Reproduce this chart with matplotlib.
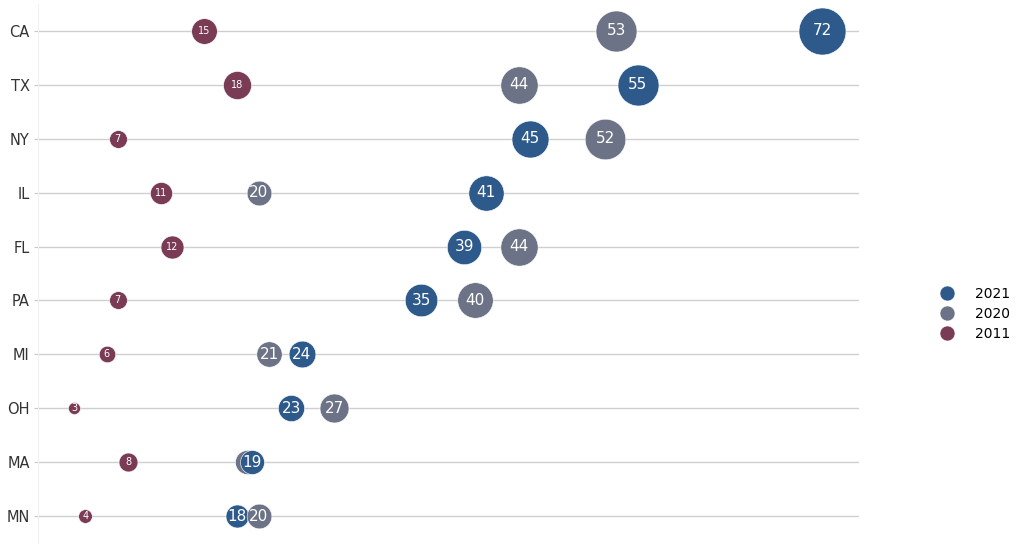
import matplotlib
matplotlib.use("Agg")
import matplotlib.pyplot as plt
from matplotlib.lines import Line2D

# data
states = ["CA", "TX", "NY", "IL", "FL", "PA", "MI", "OH", "MA", "MN"]
years = ["2021", "2020", "2011"]
v2021 = [72, 55, 45, 41, 39, 35, 24, 23, 19.4, 18]
v2020 = [53, 44, 52, 20, 44, 40, 21, 27, 18.9, 20]
v2011 = [15, 18, 7, 11, 12, 7, 6, 3, 8, 4]

colors = {"2021": "#2e5a8b", "2020": "#6d7386", "2011": "#7a3c55"}
# bubble diameter (px) at each series' min / max value, area scales linearly
size_range = {"2021": (23, 47), "2020": (24, 41), "2011": (12, 28)}
label_size = {"2021": 11, "2020": 11, "2011": 7}

DPI = 100
PX = 72.0 / DPI


def areas(values, dmin, dmax):
    lo, hi = min(values), max(values)
    amin, amax = (dmin * PX) ** 2, (dmax * PX) ** 2
    return [amin + (v - lo) / (hi - lo) * (amax - amin) for v in values]


fig = plt.figure(figsize=(10.24, 5.47), dpi=DPI)
ax = fig.add_axes([38 / 1024, 4 / 547, (859 - 38) / 1024, 539 / 547])

series = {"2021": v2021, "2020": v2020, "2011": v2011}
ypos = list(range(len(states)))

for year in years:
    vals = series[year]
    sizes = areas(vals, *size_range[year])
    for i, (y, v, s) in enumerate(zip(ypos, vals, sizes)):
        z = 3 + v / 100.0
        ax.scatter([v], [y], s=s, color=colors[year], edgecolor="white",
                   linewidth=0.4, zorder=z)
        # a label hidden under a bigger bubble of the same row is not drawn
        covered = any(series[o][i] > v and abs(series[o][i] - v) < 1
                      for o in years if o != year)
        if not covered:
            ax.text(v, y, f"{round(v)}", color="white", ha="center", va="center",
                    fontsize=label_size[year], zorder=z + 0.001)

ax.set_xlim(-0.35, 75.4)
ax.set_ylim(len(states) - 0.5, -0.5)
ax.set_yticks(ypos)
ax.set_yticklabels(states, fontsize=10.5, color="#333333")
ax.set_xticks([])
ax.tick_params(axis="y", length=3, color="#c8c8c8", pad=3)
ax.grid(axis="y", color="#cfcfcf", linewidth=1.0, zorder=0)
ax.set_axisbelow(True)
for side in ["top", "right", "bottom"]:
    ax.spines[side].set_visible(False)
ax.spines["left"].set_color("#f2f2f2")

handles = [Line2D([], [], marker="o", linestyle="", markersize=15 * PX,
                  markerfacecolor=colors[y], markeredgecolor="white",
                  markeredgewidth=0.4) for y in years]
fig.legend(handles, years, loc="center left", bbox_to_anchor=(933 / 1024, 1 - 314 / 547),
           frameon=False, fontsize=10, handletextpad=1.4, labelspacing=0.45,
           handlelength=1.2, borderaxespad=0)

fig.savefig("out.png", dpi=DPI)
